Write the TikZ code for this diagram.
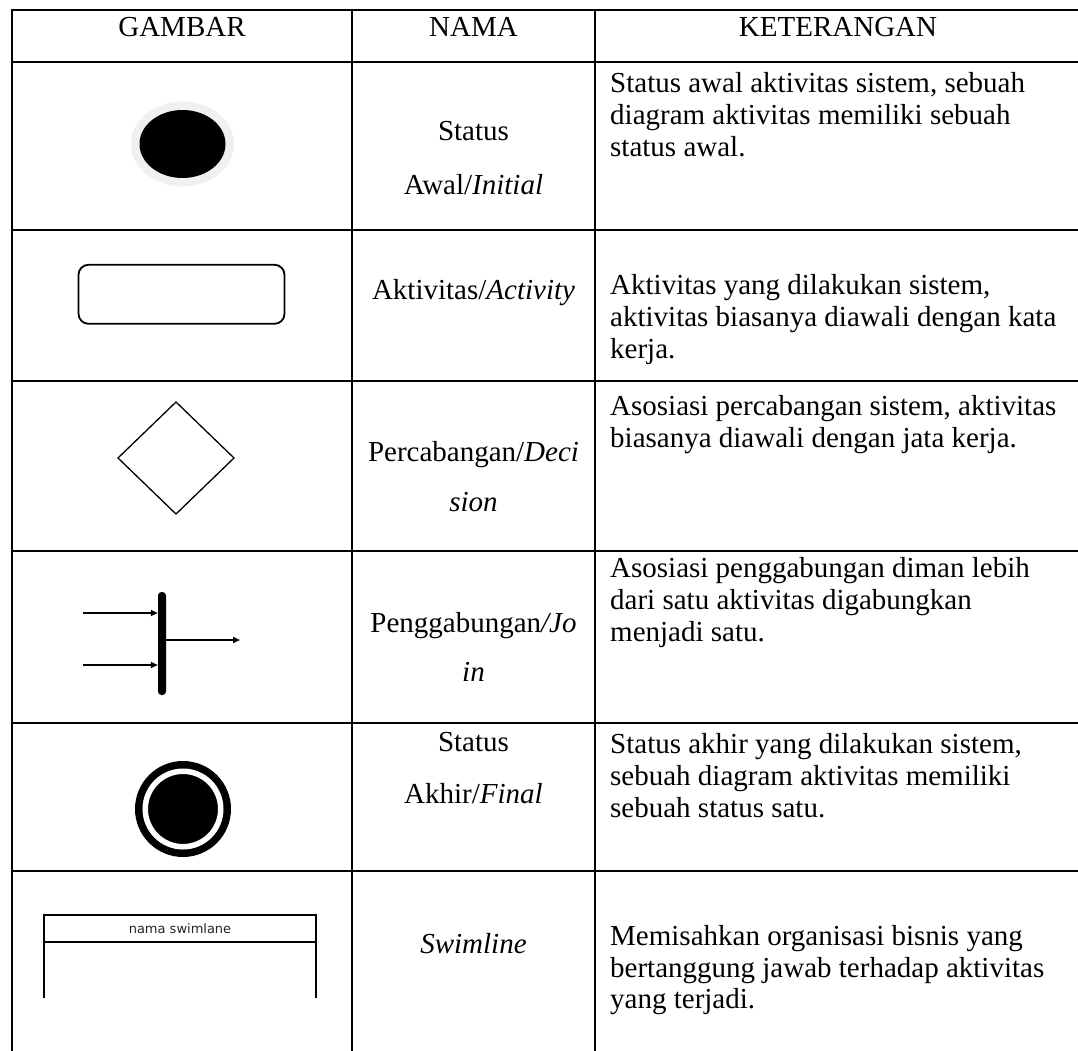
\documentclass[tikz,border=0pt]{standalone}
\usepackage{fontspec}
\setmainfont{Liberation Serif}
\newfontfamily\swfont{DejaVu Sans}
\usetikzlibrary{arrows.meta,shapes.geometric}
\begin{document}
\begin{tikzpicture}[x=1pt,y=-1pt,
  hline/.style={line width=2.6pt},
  vline/.style={line width=1.9pt},
  txt/.style={font=\fontsize{29}{33}\selectfont, inner sep=0pt, anchor=base},
  ket/.style={txt, anchor=base west},
  arr/.style={line width=1.8pt, -{Triangle[length=7pt,width=6pt]}}]
\useasboundingbox (0,0) rectangle (1078,1051);
\fill[white] (0,0) rectangle (1078,1051);
% table grid
\foreach \yy in {10,62,230,381,551,723,871}{\draw[hline] (11,\yy) -- (1078,\yy);}
\foreach \xx in {12,352,595}{\draw[vline] (\xx,9) -- (\xx,1051);}
% header
\node[txt] (hg) at (182,37) {GAMBAR};
\node[txt] (hn) at (473.5,37) {NAMA};
\node[txt] (hk) at (838,37) {KETERANGAN};
% row 1 initial
\node[ellipse, fill=black!6, minimum width=103, minimum height=85, inner sep=0pt] (halo) at (182.5,144) {};
\node[ellipse, fill=black, minimum width=86, minimum height=68, inner sep=0pt] (init) at (182.5,144) {};
\node[txt] (n1a) at (473.5,141) {Status};
\node[txt] (n1b) at (473.5,194) {Awal/\textit{Initial}};
\node[ket] (k1a) at (610,93) {Status awal aktivitas sistem, sebuah};
\node[ket] (k1b) at (610,125) {diagram aktivitas memiliki sebuah};
\node[ket] (k1c) at (610,157) {status awal.};
% row 2 activity
\node[draw, rounded corners=10pt, line width=1.8pt, minimum width=206, minimum height=59, inner sep=0pt] (act) at (181.5,294.3) {};
\node[txt] (n2a) at (473.5,299) {Aktivitas/\textit{Activity}};
\node[ket] (k2a) at (610,294) {Aktivitas yang dilakukan sistem,};
\node[ket] (k2b) at (610,326) {aktivitas biasanya diawali dengan kata};
\node[ket] (k2c) at (610,358) {kerja.};
% row 3 decision
\draw[line width=1.3pt, line join=miter] (176,402) -- (234,458) -- (176,514) -- (118,458) -- cycle;
\node[txt] (n3a) at (473.5,461) {Percabangan/\textit{Deci}};
\node[txt] (n3b) at (473.5,511) {\textit{sion}};
\node[ket] (k3a) at (610,415) {Asosiasi percabangan sistem, aktivitas};
\node[ket] (k3b) at (610,447) {biasanya diawali dengan jata kerja.};
% row 4 join
\node[fill=black, minimum width=8, minimum height=103, rounded corners=3.5pt, inner sep=0pt] (bar) at (162,643.5) {};
\coordinate (j1) at (83,613);
\coordinate (j2) at (83,665);
\coordinate (jo) at (240,640);
\draw[arr] (j1) -- (j1 -| bar.west);
\draw[arr] (j2) -- (j2 -| bar.west);
\draw[arr] (jo -| bar.east) -- (jo);
\node[txt] (n4a) at (473.5,632) {Penggabungan\textit{/Jo}};
\node[txt] (n4b) at (473.5,681) {\textit{in}};
\node[ket] (k4a) at (610,577) {Asosiasi penggabungan diman lebih};
\node[ket] (k4b) at (610,609) {dari satu aktivitas digabungkan};
\node[ket] (k4c) at (610,641) {menjadi satu.};
% row 5 final
\node[circle, fill=black, minimum size=96, inner sep=0pt] (fin) at (183,809) {};
\node[circle, fill=black, draw=white, line width=5.5pt, minimum size=75.5, inner sep=0pt] (fininner) at (183,809) {};
\node[txt] (n5a) at (473.5,751) {Status};
\node[txt] (n5b) at (473.5,803) {Akhir/\textit{Final}};
\node[ket] (k5a) at (610,753) {Status akhir yang dilakukan sistem,};
\node[ket] (k5b) at (610,785) {sebuah diagram aktivitas memiliki};
\node[ket] (k5c) at (610,817) {sebuah status satu.};
% row 6 swimlane
\draw[line width=2pt] (43.5,998) -- (43.5,915) -- (316,915) -- (316,998);
\draw[line width=2pt] (43.5,941.7) -- (316,941.7);
\node[inner sep=0pt, text=black!85, font=\swfont\fontsize{13}{15}\selectfont] (swt) at (180,928.5) {nama swimlane};
\node[txt] (n6a) at (473.5,953) {\textit{Swimline}};
\node[ket] (k6a) at (610,945) {Memisahkan organisasi bisnis yang};
\node[ket] (k6b) at (610,977) {bertanggung jawab terhadap aktivitas};
\node[ket] (k6c) at (610,1008) {yang terjadi.};
\end{tikzpicture}
\end{document}
